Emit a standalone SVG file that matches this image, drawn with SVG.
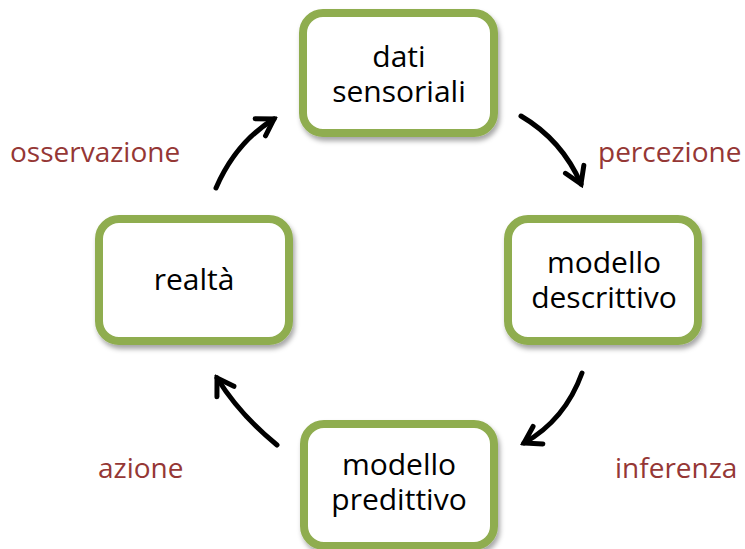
<svg xmlns="http://www.w3.org/2000/svg" width="745" height="549" viewBox="0 0 745 549">
<style>
.box{fill:#fff;stroke:#8fad50;stroke-width:8}
.t{font-family:"Open Sans","Liberation Sans",sans-serif;font-size:30px;fill:#000;text-anchor:middle}
.lbl{font-family:"Open Sans","Liberation Sans",sans-serif;font-size:28px;fill:#953735}
.arr{fill:none;stroke:#000;stroke-width:5;stroke-linecap:round;marker-end:url(#ah)}
</style>
<defs>
<filter id="sh" x="-10%" y="-10%" width="130%" height="130%">
<feDropShadow dx="2" dy="4" stdDeviation="2.5" flood-color="#000" flood-opacity="0.35"/>
</filter>
<marker id="ah" markerUnits="userSpaceOnUse" viewBox="-20 -14 24 28" markerWidth="24" markerHeight="28" refX="0" refY="0" orient="auto">
<path d="M-16,-10 L0,0 L-16,10" fill="none" stroke="#000" stroke-width="5" stroke-linecap="round" stroke-linejoin="miter"/>
</marker>
</defs>
<g id="dati">
<rect class="box" x="303" y="13" width="191" height="120" rx="20" filter="url(#sh)"/>
<text class="t" x="399" y="67">dati</text>
<text class="t" x="399" y="102">sensoriali</text>
</g>
<g id="descrittivo">
<rect class="box" x="508" y="219" width="190" height="122" rx="20" filter="url(#sh)"/>
<text class="t" x="604" y="273">modello</text>
<text class="t" x="604" y="308">descrittivo</text>
</g>
<g id="realta">
<rect class="box" x="99" y="219" width="190" height="122" rx="20" filter="url(#sh)"/>
<text class="t" x="194" y="290">realtà</text>
</g>
<g id="predittivo">
<rect class="box" x="304" y="424" width="190" height="122" rx="20" filter="url(#sh)"/>
<text class="t" x="399" y="475">modello</text>
<text class="t" x="399" y="510">predittivo</text>
</g>
<g id="connectors">
<path class="arr" d="M216,188 Q236,142 274,119"/>
<path class="arr" d="M521,116 Q562,140 581,184"/>
<path class="arr" d="M582,373 Q565,420 524,443"/>
<path class="arr" d="M277,445 Q240,415 217,378"/>
</g>
<g id="labels">
<text class="lbl" x="10" y="162">osservazione</text>
<text class="lbl" x="598" y="162">percezione</text>
<text class="lbl" x="615" y="478">inferenza</text>
<text class="lbl" x="98" y="478">azione</text>
</g>
</svg>
